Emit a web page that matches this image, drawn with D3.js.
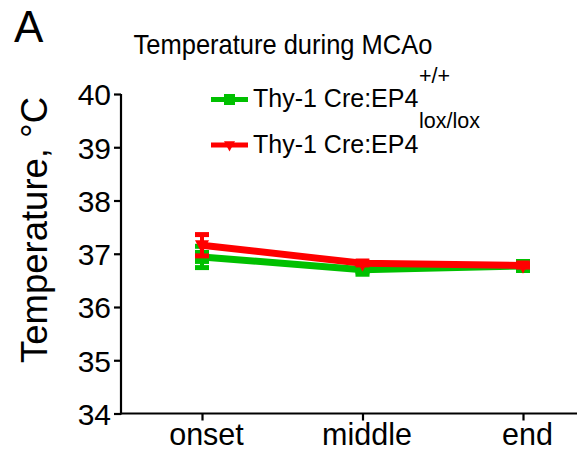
<!DOCTYPE html>
<html><head><meta charset="utf-8">
<script src="https://cdn.jsdelivr.net/npm/d3@7"></script>
<style>body{margin:0;background:#fff}svg{display:block}text{font-family:"Liberation Sans",Arial,sans-serif;fill:#000}</style>
</head><body><svg id="c" width="577" height="455"></svg>
<script>
const categories = ["onset", "middle", "end"];
const yTicks = [34, 35, 36, 37, 38, 39, 40];
const wtMean = [36.94, 36.70, 36.77];
const wtSem = [0.20, 0.04, 0.04];
const koMean = [37.16, 36.82, 36.78];
const koSem = [0.20, 0.03, 0.03];
const seriesNames = ["Thy-1 Cre:EP4", "Thy-1 Cre:EP4"];
const seriesSups = ["+/+", "lox/lox"];
const colors = ["#00c000", "#ff0000"];

const svg = d3.select("#c");
const x = d3.scalePoint().domain(categories).range([202, 523]);
const y = d3.scaleLinear().domain([34, 40]).range([413.5, 94]);

// panel letter & title
svg.append("text").attr("x", 14).attr("y", 42).attr("font-size", 44).text("A");
svg.append("text").attr("x", 283).attr("y", 54).attr("text-anchor", "middle").attr("font-size", 25.5).attr("transform", "translate(283,54) scale(1,1.08) translate(-283,-54)").text("Temperature during MCAo");
svg.append("text").attr("transform", "translate(47,230) rotate(-90)").attr("text-anchor", "middle").attr("font-size", 36.5).text("Temperature, \u00B0C");

// y axis
const ya = svg.append("g").attr("transform", "translate(121,0)")
  .call(d3.axisLeft(y).tickValues(yTicks).tickSize(7).tickPadding(3).tickFormat(d3.format("d")));
ya.select(".domain").attr("stroke", "#000").attr("stroke-width", 2.2).attr("d", "M0," + y(40) + "V" + (y(34) + 1));
ya.selectAll(".tick line").attr("stroke", "#000").attr("stroke-width", 2.2);
ya.selectAll(".tick text").attr("font-size", 30).attr("font-family", "Liberation Sans, Arial").attr("dy", "0.36em");

// x axis
const xa = svg.append("g").attr("transform", "translate(0," + y(34) + ")")
  .call(d3.axisBottom(x).tickSize(7).tickPadding(5));
xa.select(".domain").attr("stroke", "#000").attr("stroke-width", 2.2).attr("d", "M120,0H577");
xa.selectAll(".tick line").attr("stroke", "#000").attr("stroke-width", 2.2);
xa.selectAll(".tick text").attr("font-size", 30.5).attr("font-family", "Liberation Sans, Arial").attr("y", 31.5).attr("dy", "0").attr("dx", 4);

const series = [
  {mean: wtMean, sem: wtSem, color: colors[0], marker: "square"},
  {mean: koMean, sem: koSem, color: colors[1], marker: "tri"}
];
const line = d3.line().x((d, i) => x(categories[i])).y(d => y(d));

function marker(g, type, cx, cy, color, s) {
  if (type === "square") {
    g.append("rect").attr("x", cx - s / 2).attr("y", cy - s / 2).attr("width", s).attr("height", s).attr("fill", color);
  } else {
    g.append("path").attr("d", `M${cx - s / 2},${cy - s * 0.35}L${cx + s / 2},${cy - s * 0.35}L${cx},${cy + s * 0.6}Z`).attr("fill", color);
  }
}

series.forEach(s => {
  const g = svg.append("g");
  s.mean.forEach((m, i) => {
    const cx = x(categories[i]);
    const hi = y(m + s.sem[i]), lo = y(m - s.sem[i]);
    g.append("line").attr("x1", cx).attr("x2", cx).attr("y1", hi).attr("y2", lo).attr("stroke", s.color).attr("stroke-width", 4);
    g.append("line").attr("x1", cx - 7).attr("x2", cx + 7).attr("y1", hi).attr("y2", hi).attr("stroke", s.color).attr("stroke-width", 5);
    g.append("line").attr("x1", cx - 7).attr("x2", cx + 7).attr("y1", lo).attr("y2", lo).attr("stroke", s.color).attr("stroke-width", 5);
  });
  g.append("path").attr("d", line(s.mean)).attr("fill", "none").attr("stroke", s.color).attr("stroke-width", 7);
  s.mean.forEach((m, i) => marker(g, s.marker, x(categories[i]), y(m), s.color, 14));
});

// legend
const legY = [99.5, 145];
series.forEach((s, i) => {
  const g = svg.append("g");
  g.append("line").attr("x1", 211).attr("x2", 248).attr("y1", legY[i]).attr("y2", legY[i]).attr("stroke", s.color).attr("stroke-width", 5);
  marker(g, s.marker, 229.5, legY[i], s.color, 11);
  g.append("text").attr("x", 253).attr("y", legY[i] + 7.5).attr("font-size", 25).text(seriesNames[i]);
  g.append("text").attr("x", 419).attr("y", legY[i] - 17).attr("font-size", 21.5).text(seriesSups[i]);
});
</script></body></html>
